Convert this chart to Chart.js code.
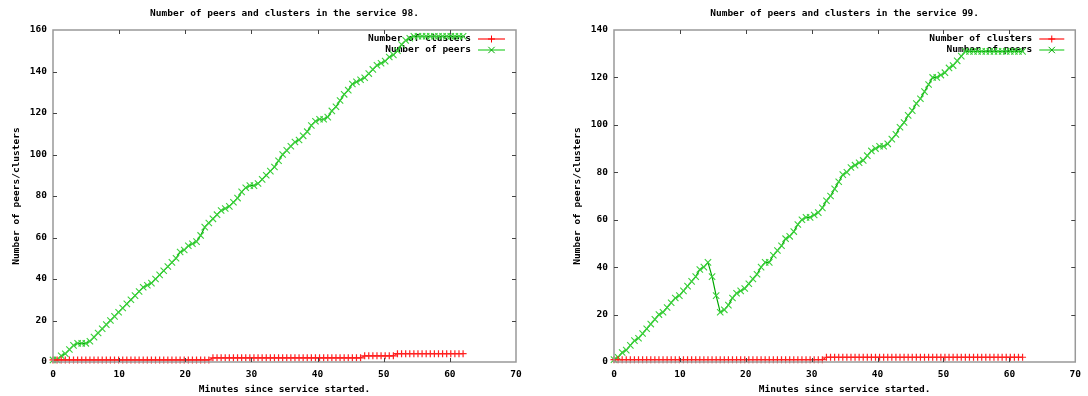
<!DOCTYPE html>
<html><head><meta charset="utf-8">
<script src="https://cdn.jsdelivr.net/npm/chart.js@4.4.1/dist/chart.umd.min.js"></script>
<style>
html,body{margin:0;padding:0;background:#fff;}
#wrap{position:relative;width:1088px;height:396px;overflow:hidden;}
.box{position:absolute;top:0;width:544px;height:396px;}
</style></head><body>
<div id="wrap">
<div class="box" style="left:0"><canvas id="c98" width="544" height="396"></canvas></div>
<div class="box" style="left:544px"><canvas id="c99" width="544" height="396"></canvas></div>
</div>
<script>
// ---- data ----
const minutes = [0,0.62,1.24,1.86,2.48,3.1,3.72,4.34,4.96,5.58,6.2,6.82,7.44,8.06,8.68,9.3,9.92,10.54,11.16,11.78,12.4,13.02,13.64,14.26,14.88,15.5,16.12,16.74,17.36,17.98,18.6,19.22,19.84,20.46,21.08,21.7,22.32,22.94,23.56,24.18,24.8,25.42,26.04,26.66,27.28,27.9,28.52,29.14,29.76,30.38,31,31.62,32.24,32.86,33.48,34.1,34.72,35.34,35.96,36.58,37.2,37.82,38.44,39.06,39.68,40.3,40.92,41.54,42.16,42.78,43.4,44.02,44.64,45.26,45.88,46.5,47.12,47.74,48.36,48.98,49.6,50.22,50.84,51.46,52.08,52.7,53.32,53.94,54.56,55.18,55.8,56.42,57.04,57.66,58.28,58.9,59.52,60.14,60.76,61.38,62];

const clusters98 = [1,1,1,1,1,1,1,1,1,1,1,1,1,1,1,1,1,1,1,1,1,1,1,1,1,1,1,1,1,1,1,1,1,1,1,1,1,1,1,
  2,2,2,2,2,2,2,2,2,2,2,2,2,2,2,2,2,2,2,2,2,2,2,2,2,2,2,2,2,2,2,2,2,2,2,2,2,
  3,3,3,3,3,3,3,3,
  4,4,4,4,4,4,4,4,4,4,4,4,4,4,4,4,4];
const peers98 = [1,1,3,4,6,8,9,9,9,10,
  12,14,16,18,20,22,24,26,28,30,
  32,34,36,37,38,40,42,44,46,48,
  50,53,54,56,57,58,61,65,67,69,
  71,73,74,75,77,79,82,84,85,85,
  86,88,90,92,94,97,100,102,104,106,
  107,109,111,114,116,117,117,118,121,123,
  126,129,131,134,135,136,137,139,141,143,
  144,145,147,148,150,153,155,156,157,157,
  157,157,157,157,157,157,157,157,157,157,157];

const clusters99 = [1,1,1,1,1,1,1,1,1,1,1,1,1,1,1,1,1,1,1,1,1,1,1,1,1,1,1,1,1,1,1,1,1,1,1,1,1,1,1,1,1,1,1,1,1,1,1,1,1,1,1,1,
  2,2,2,2,2,2,2,2,2,2,2,2,2,2,2,2,2,2,2,2,2,2,2,2,2,2,2,2,2,2,2,2,2,2,2,2,2,2,2,2,2,2,2,2,2,2,2,2,2];
const peers99 = [1,2,4,5,7,9,10,12,14,16,
  18,20,21,23,25,27,28,30,32,34,
  36,39,40,42,36,28,21,22,24,27,
  29,30,31,33,35,37,40,42,42,45,
  47,49,52,53,55,58,60,61,61,62,
  63,65,68,70,73,76,79,80,82,83,
  84,85,87,89,90,91,91,92,94,96,
  99,101,104,106,109,111,114,117,120,120,
  121,122,124,125,127,129,131,131,131,131,
  131,131,131,131,131,131,131,131,131,131,131];

const xTicks = [0,10,20,30,40,50,60,70];
const yTicks98 = [0,20,40,60,80,100,120,140,160];
const yTicks99 = [0,20,40,60,80,100,120,140];
const seriesLabels = ['Number of clusters','Number of peers'];
const titles = ['Number of peers and clusters in the service 98.','Number of peers and clusters in the service 99.'];
const xTitle = 'Minutes since service started.';
const yTitle = 'Number of peers/clusters';

// ---- styling ----
const FONT = {family: "'DejaVu Sans Mono', 'Liberation Mono', monospace", size: 9.5, weight: 'bold', lineHeight: 1.2};
Chart.defaults.font = FONT;
Chart.defaults.color = '#000';

function drawMark(ctx, style, x, y, r) {
  ctx.beginPath();
  if (style === 'cross') {
    ctx.moveTo(x - r, y); ctx.lineTo(x + r, y);
    ctx.moveTo(x, y - r); ctx.lineTo(x, y + r);
  } else {
    const d = r * 0.7071;
    ctx.moveTo(x - d, y - d); ctx.lineTo(x + d, y + d);
    ctx.moveTo(x - d, y + d); ctx.lineTo(x + d, y - d);
  }
  ctx.stroke();
}

const gnuFrame = {
  id: 'gnuFrame',
  beforeDatasetsDraw(chart, args, opts) {
    const {ctx, chartArea: a} = chart;
    ctx.save();
    ctx.font = `bold ${FONT.size}px ${FONT.family}`;
    ctx.textAlign = 'right';
    ctx.textBaseline = 'middle';
    chart.data.datasets.forEach((ds, i) => {
      const y = a.top + 9 + i * 11;
      ctx.fillStyle = '#000';
      ctx.fillText(ds.label, a.right - opts.textGap, y);
      const x0 = a.right - opts.textGap + 7, x1 = a.right - 11;
      ctx.strokeStyle = ds.pointBorderColor;
      ctx.globalAlpha = 0.7;
      ctx.lineWidth = 1.8;
      ctx.beginPath(); ctx.moveTo(x0, y); ctx.lineTo(x1, y); ctx.stroke();
      ctx.globalAlpha = 1;
      ctx.lineWidth = 1;
      ctx.strokeStyle = ds.borderColor;
      drawMark(ctx, ds.pointStyle, (x0 + x1) / 2, y, ds.pointRadius);
    });
    ctx.restore();
  },
  afterDatasetsDraw(chart) {
    const {ctx, chartArea: a, scales: {x, y}} = chart;
    ctx.save();
    ctx.strokeStyle = '#999';
    ctx.lineWidth = 1.5;
    ctx.strokeRect(a.left, a.top, a.right - a.left, a.bottom - a.top);
    ctx.strokeStyle = '#444';
    ctx.lineWidth = 1;
    ctx.beginPath();
    x.ticks.forEach(t => {
      const px = Math.round(x.getPixelForValue(t.value)) + 0.5;
      if (px <= a.left + 1 || px >= a.right - 1) return;
      ctx.moveTo(px, a.bottom); ctx.lineTo(px, a.bottom - 4);
      ctx.moveTo(px, a.top); ctx.lineTo(px, a.top + 4);
    });
    y.ticks.forEach(t => {
      const py = Math.round(y.getPixelForValue(t.value)) + 0.5;
      if (py <= a.top + 1 || py >= a.bottom - 1) return;
      ctx.moveTo(a.left, py); ctx.lineTo(a.left + 4, py);
      ctx.moveTo(a.right, py); ctx.lineTo(a.right - 4, py);
    });
    ctx.stroke();
    ctx.restore();
  }
};

function pts(vals) { return minutes.map((m, i) => ({x: m, y: vals[i]})); }

function makeChart(id, o) {
  return new Chart(document.getElementById(id), {
    type: 'line',
    data: {
      datasets: [
        {label: seriesLabels[0], data: pts(o.clusters), borderColor: '#ff0000', pointBorderColor: '#ff2020',
         backgroundColor: 'transparent', borderWidth: 1, pointStyle: 'cross', pointRadius: 3.5,
         pointBorderWidth: 1.2, pointHoverRadius: 3.5, tension: 0, clip: 6},
        {label: seriesLabels[1], data: pts(o.peers), borderColor: '#00a800', pointBorderColor: '#3ad03a',
         backgroundColor: 'transparent', borderWidth: 1.2, pointStyle: 'crossRot', pointRadius: 4.5,
         pointBorderWidth: 1.1, pointHoverRadius: 4.5, tension: 0, clip: 6}
      ]
    },
    options: {
      responsive: false,
      animation: false,
      events: [],
      layout: {padding: {left: 0, right: o.padRight, top: 0, bottom: 0}},
      plugins: {
        legend: {display: false},
        tooltip: {enabled: false},
        title: {display: true, text: o.title, fullSize: false, font: FONT, color: '#000',
                padding: {top: 8, bottom: 30 - 8 - FONT.size * FONT.lineHeight}},
        gnuFrame: {textGap: o.textGap}
      },
      scales: {
        x: {
          type: 'linear', min: 0, max: 70,
          afterBuildTicks: s => { s.ticks = xTicks.map(v => ({value: v})); },
          afterFit: s => { s.height = 34; },
          grid: {display: false, drawTicks: false},
          border: {display: false},
          ticks: {padding: 7, font: FONT, color: '#000', maxRotation: 0, autoSkip: false},
          title: {display: true, text: xTitle, font: FONT, color: '#000', padding: {top: 0, bottom: 1}}
        },
        y: {
          type: 'linear', min: 0, max: o.yMax,
          afterBuildTicks: s => { s.ticks = o.yTicks.map(v => ({value: v})); },
          afterFit: s => { s.width = o.plotLeft; },
          grid: {display: false, drawTicks: false},
          border: {display: false},
          ticks: {padding: 6, font: FONT, color: '#000', autoSkip: false},
          title: {display: true, text: yTitle, font: FONT, color: '#000', padding: {top: o.plotLeft - 36 - 5.7, bottom: 0}}
        }
      }
    },
    plugins: [gnuFrame]
  });
}

makeChart('c98', {clusters: clusters98, peers: peers98, yMax: 160, yTicks: yTicks98,
  title: titles[0], plotLeft: 53, padRight: 28, textGap: 45});
makeChart('c99', {clusters: clusters99, peers: peers99, yMax: 140, yTicks: yTicks99,
  title: titles[1], plotLeft: 70, padRight: 12, textGap: 43});
</script>
</body></html>
